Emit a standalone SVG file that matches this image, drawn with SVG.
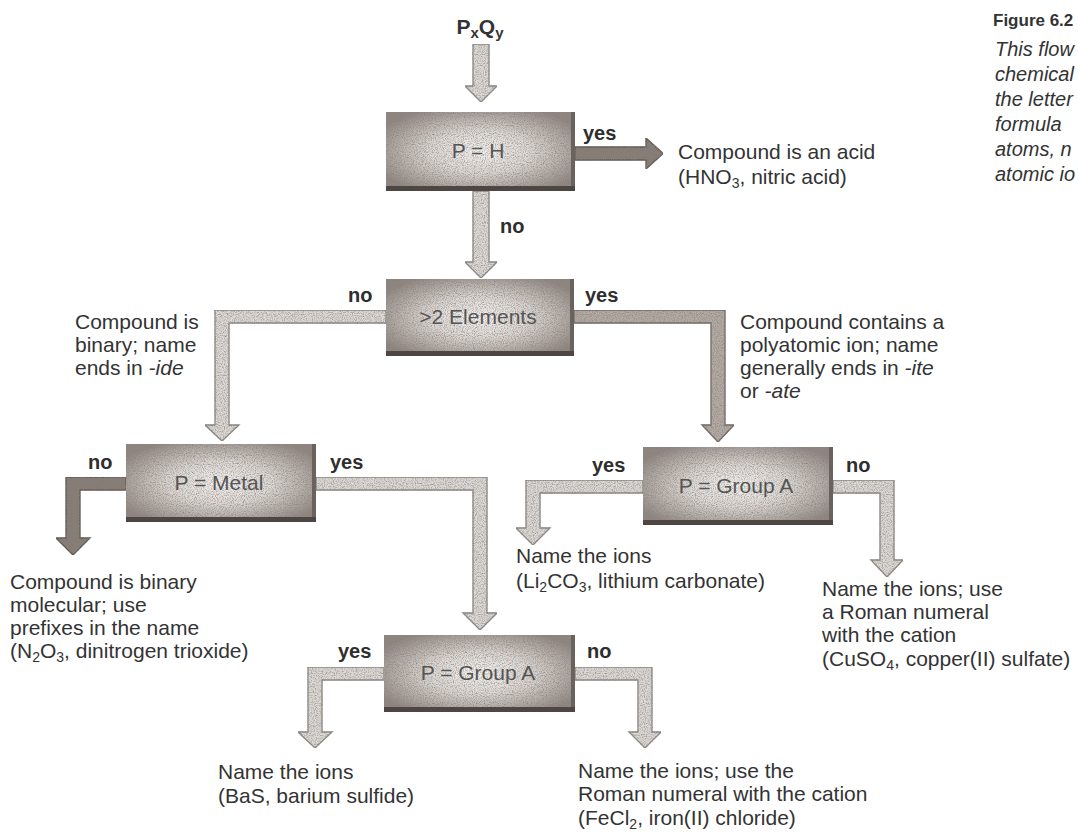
<svg xmlns="http://www.w3.org/2000/svg" width="1078" height="839" viewBox="0 0 1078 839">
<style>
  .t{font-family:"Liberation Sans Narrow","Liberation Sans",Arial,sans-serif;font-size:21px;fill:#333}
  .lbl{font-family:"Liberation Sans Narrow","Liberation Sans",Arial,sans-serif;font-size:20px;font-weight:bold;fill:#2e2e2e}
  .bt{font-family:"Liberation Sans Narrow","Liberation Sans",Arial,sans-serif;font-size:21px;fill:#555;text-anchor:middle}
  .cap{font-family:"Liberation Sans Narrow","Liberation Sans",Arial,sans-serif;font-size:20px;font-style:italic;fill:#333}
  .capb{font-family:"Liberation Sans Narrow","Liberation Sans",Arial,sans-serif;font-size:21px;font-weight:bold;fill:#333}
  .fig{font-family:"Liberation Sans Narrow","Liberation Sans",Arial,sans-serif;font-size:17px;font-weight:bold;fill:#333}
  .light{fill:#dcd9d6;stroke:#8e8984;stroke-width:1.3}
  .mid{fill:#b3aba4;stroke:#6f6862;stroke-width:1.3}
  .dark{fill:#857c75;stroke:#5e5650;stroke-width:1.3}
  .boxbg{fill:url(#boxg)}
  .edgeb{fill:#4d4642}
  .edger{fill:#6a625c}
</style>
<defs>
  <radialGradient id="boxg" cx="50%" cy="50%" r="60%">
    <stop offset="0" stop-color="#f4f2f0"/>
    <stop offset="0.45" stop-color="#dcd7d3"/>
    <stop offset="1" stop-color="#8f8680"/>
  </radialGradient>
  <filter id="grain" x="0" y="0" width="100%" height="100%">
    <feTurbulence type="fractalNoise" baseFrequency="0.9" numOctaves="2" seed="5" result="n"/>
    <feColorMatrix in="n" type="matrix" values="0 0 0 0 0.25  0 0 0 0 0.22  0 0 0 0 0.2  1.9 0 0 0 -0.75" result="d"/>
    <feComposite in="d" in2="SourceGraphic" operator="in" result="dc"/>
    <feMerge><feMergeNode in="SourceGraphic"/><feMergeNode in="dc"/></feMerge>
  </filter>
</defs>
<rect width="1078" height="839" fill="#ffffff"/>

<g id="connectors">
  <polygon class="light" filter="url(#grain)" points="473,44 489,44 489,86 497,86 481,102 465,86 473,86"/>
  <polygon class="dark" filter="url(#grain)" points="575,147 646,147 646,138 663,153.5 646,169 646,160 575,160"/>
  <polygon class="light" filter="url(#grain)" points="473,191 489,191 489,262 497,262 481,278 465,262 473,262"/>
  <polygon class="light" filter="url(#grain)" points="386,310 215,310 215,425 205,425 222,441 239,425 229,425 229,323 386,323"/>
  <polygon class="mid" filter="url(#grain)" points="574,310 725,310 725,425 734,425 718,442 702,425 711,425 711,323 574,323"/>
  <polygon class="dark" filter="url(#grain)" points="126,477 66,477 66,538 56,538 73,555 90,538 80,538 80,490 126,490"/>
  <polygon class="light" filter="url(#grain)" points="316,477 487,477 487,613 497,613 480,630 463,613 473,613 473,490 316,490"/>
  <polygon class="light" filter="url(#grain)" points="643,480 526,480 526,528 516,528 533,545 550,528 540,528 540,493 643,493"/>
  <polygon class="light" filter="url(#grain)" points="833,480 894,480 894,560 903,560 887,577 871,560 880,560 880,493 833,493"/>
  <polygon class="light" filter="url(#grain)" points="384,667 308,667 308,732 298,732 315,748 332,732 322,732 322,680 384,680"/>
  <polygon class="light" filter="url(#grain)" points="575,667 652,667 652,732 661,732 645,748 629,732 638,732 638,680 575,680"/>
  <text class="lbl" x="583" y="140">yes</text>
  <text class="lbl" x="500" y="233">no</text>
  <text class="lbl" x="348" y="302">no</text>
  <text class="lbl" x="585" y="302">yes</text>
  <text class="lbl" x="88" y="469">no</text>
  <text class="lbl" x="330" y="469">yes</text>
  <text class="lbl" x="592" y="472">yes</text>
  <text class="lbl" x="846" y="472">no</text>
  <text class="lbl" x="338" y="658">yes</text>
  <text class="lbl" x="587" y="658">no</text>
</g>

<g id="start">
  <text class="capb" x="480" y="34" text-anchor="middle">P<tspan font-size="15" dy="4">x</tspan><tspan dy="-4">Q</tspan><tspan font-size="15" dy="4">y</tspan></text>
</g>

<g id="box-p-h">
  <rect class="boxbg" filter="url(#grain)" x="386" y="112" width="189" height="79"/>
  <rect class="edger" x="571" y="112" width="4" height="79"/>
  <rect class="edgeb" x="386" y="186" width="189" height="5"/>
  <text class="bt" x="478" y="158">P = H</text>
</g>

<g id="box-elements">
  <rect class="boxbg" filter="url(#grain)" x="386" y="279" width="188" height="77"/>
  <rect class="edger" x="570" y="279" width="4" height="77"/>
  <rect class="edgeb" x="386" y="351" width="188" height="5"/>
  <text class="bt" x="478" y="324">&gt;2 Elements</text>
</g>

<g id="box-metal">
  <rect class="boxbg" filter="url(#grain)" x="126" y="444" width="190" height="78"/>
  <rect class="edger" x="312" y="444" width="4" height="78"/>
  <rect class="edgeb" x="126" y="517" width="190" height="5"/>
  <text class="bt" x="219" y="490">P = Metal</text>
</g>

<g id="box-groupa-right">
  <rect class="boxbg" filter="url(#grain)" x="643" y="447" width="190" height="78"/>
  <rect class="edger" x="829" y="447" width="4" height="78"/>
  <rect class="edgeb" x="643" y="520" width="190" height="5"/>
  <text class="bt" x="736" y="493">P = Group A</text>
</g>

<g id="box-groupa-bottom">
  <rect class="boxbg" filter="url(#grain)" x="384" y="635" width="191" height="77"/>
  <rect class="edger" x="571" y="635" width="4" height="77"/>
  <rect class="edgeb" x="384" y="707" width="191" height="5"/>
  <text class="bt" x="478" y="680">P = Group A</text>
</g>

<g id="acid">
  <text class="t" x="678" y="159">Compound is an acid</text>
  <text class="t" x="678" y="184">(HNO<tspan font-size="14" dy="4">3</tspan><tspan dy="-4">, nitric acid)</tspan></text>
</g>

<g id="binary">
  <text class="t" x="75" y="329">Compound is</text>
  <text class="t" x="75" y="352">binary; name</text>
  <text class="t" x="75" y="375">ends in <tspan font-style="italic">-ide</tspan></text>
</g>

<g id="polyatomic">
  <text class="t" x="740" y="329">Compound contains a</text>
  <text class="t" x="740" y="352">polyatomic ion; name</text>
  <text class="t" x="740" y="375">generally ends in <tspan font-style="italic">-ite</tspan></text>
  <text class="t" x="740" y="398">or <tspan font-style="italic">-ate</tspan></text>
</g>

<g id="molecular">
  <text class="t" x="10" y="589">Compound is binary</text>
  <text class="t" x="10" y="612">molecular; use</text>
  <text class="t" x="10" y="635">prefixes in the name</text>
  <text class="t" x="10" y="658">(N<tspan font-size="14" dy="4">2</tspan><tspan dy="-4">O</tspan><tspan font-size="14" dy="4">3</tspan><tspan dy="-4">, dinitrogen trioxide)</tspan></text>
</g>

<g id="lithium">
  <text class="t" x="516" y="563">Name the ions</text>
  <text class="t" x="516" y="588">(Li<tspan font-size="14" dy="4">2</tspan><tspan dy="-4">CO</tspan><tspan font-size="14" dy="4">3</tspan><tspan dy="-4">, lithium carbonate)</tspan></text>
</g>

<g id="copper">
  <text class="t" x="822" y="596">Name the ions; use</text>
  <text class="t" x="822" y="619">a Roman numeral</text>
  <text class="t" x="822" y="642">with the cation</text>
  <text class="t" x="822" y="666">(CuSO<tspan font-size="14" dy="4">4</tspan><tspan dy="-4">, copper(II) sulfate)</tspan></text>
</g>

<g id="barium">
  <text class="t" x="218" y="779">Name the ions</text>
  <text class="t" x="218" y="803">(BaS, barium sulfide)</text>
</g>

<g id="iron">
  <text class="t" x="578" y="778">Name the ions; use the</text>
  <text class="t" x="578" y="801">Roman numeral with the cation</text>
  <text class="t" x="578" y="825">(FeCl<tspan font-size="14" dy="4">2</tspan><tspan dy="-4">, iron(II) chloride)</tspan></text>
</g>

<g id="caption">
  <text class="fig" x="993" y="26">Figure 6.2</text>
  <text class="cap" x="995" y="56">This flow</text>
  <text class="cap" x="995" y="81">chemical</text>
  <text class="cap" x="995" y="106">the letter</text>
  <text class="cap" x="995" y="131">formula</text>
  <text class="cap" x="995" y="156">atoms, n</text>
  <text class="cap" x="995" y="181">atomic io</text>
</g>
</svg>
